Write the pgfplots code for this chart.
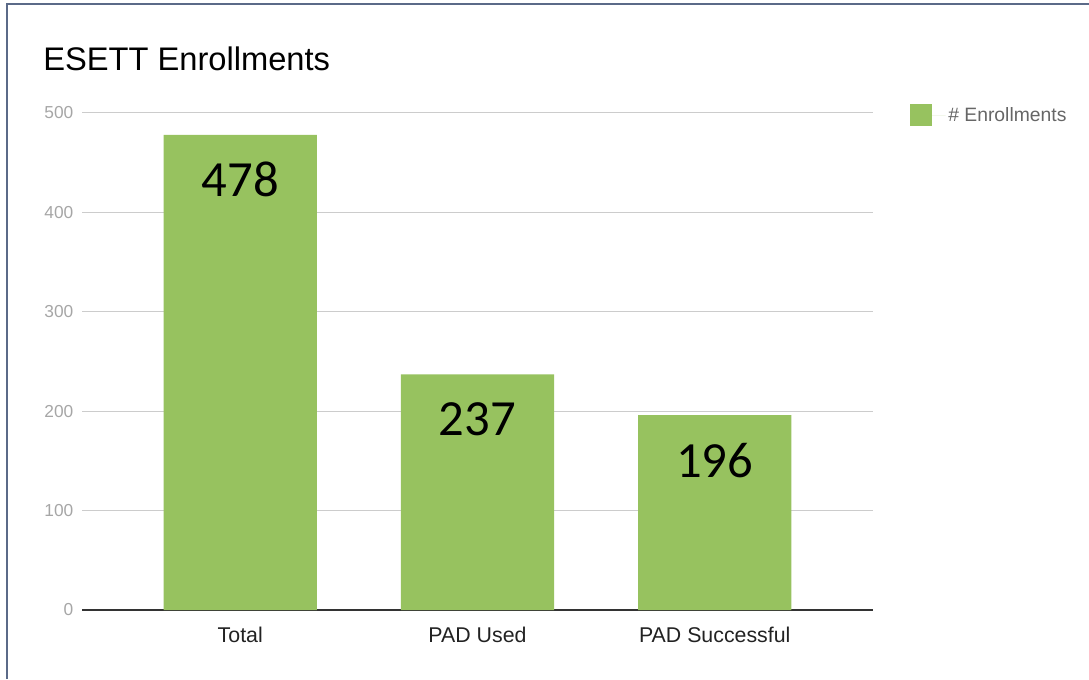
\documentclass[border=0pt]{standalone}
\usepackage{pgfplots}
\pgfplotsset{compat=1.18}
\usepackage{fontspec}
\setmainfont{Liberation Sans}
\newfontfamily\carlito{Carlito}
\definecolor{barGreen}{HTML}{97C25F}
\definecolor{frameCol}{HTML}{5B6A88}
\definecolor{tickGray}{HTML}{A6A6A6}
\definecolor{catGray}{HTML}{222222}
\definecolor{legGray}{HTML}{666666}
\definecolor{gridGray}{HTML}{CCCCCC}
\definecolor{baseCol}{HTML}{333333}
\begin{document}
\begin{tikzpicture}[x=0.75pt,y=0.75pt]
\useasboundingbox (0,0) rectangle (1089,679);
\draw[frameCol, line width=1.5pt] (7,0) -- (7,675) -- (1089,675);
\node[anchor=base west, inner sep=0pt, font=\fontsize{24.5}{29}\selectfont] at (43,608) {ESETT Enrollments};
\begin{axis}[
  at={(61.5pt,51.75pt)}, anchor=south west,
  scale only axis, width=593.25pt, height=372.75pt,
  xmin=-0.667, xmax=2.667, ymin=0, ymax=500,
  ybar, bar width=0.646,
  axis line style={draw=none},
  xtick={0,1,2}, xticklabels={Total,PAD Used,PAD Successful},
  ytick={100,200,300,400,500},
  extra y ticks={0},
  extra y tick style={ymajorgrids=true, major grid style={color=baseCol, line width=1.1pt}},
  ymajorgrids, major grid style={color=gridGray, line width=0.75pt},
  major tick length=0pt,
  /pgf/number format/assume math mode=true,
  yticklabel style={font=\fontsize{13}{15}\selectfont, text=tickGray, xshift=-3pt},
  xticklabel style={font=\fontsize{16}{19}\selectfont, text=catGray, yshift=-9.5pt},
  nodes near coords,
  every node near coord/.append style={font=\carlito\fontsize{38}{40}\selectfont, text=black, anchor=center, yshift=-33.75pt},
  clip=false,
  legend style={at={(1.0468,1.018)}, anchor=north west, draw=none, fill=none, inner sep=0pt,
    font=\fontsize{14.5}{17}\selectfont, text=legGray, cells={anchor=west}},
  legend image code/.code={\fill[barGreen] (0pt,-8.25pt) rectangle (16.5pt,8.25pt); \path (0pt,0pt) -- (26.5pt,0pt);},
]
\addplot[fill=barGreen, draw=none] coordinates {(0,478) (1,237) (2,196)};
\addlegendentry{\# Enrollments}
\end{axis}
\end{tikzpicture}
\end{document}
